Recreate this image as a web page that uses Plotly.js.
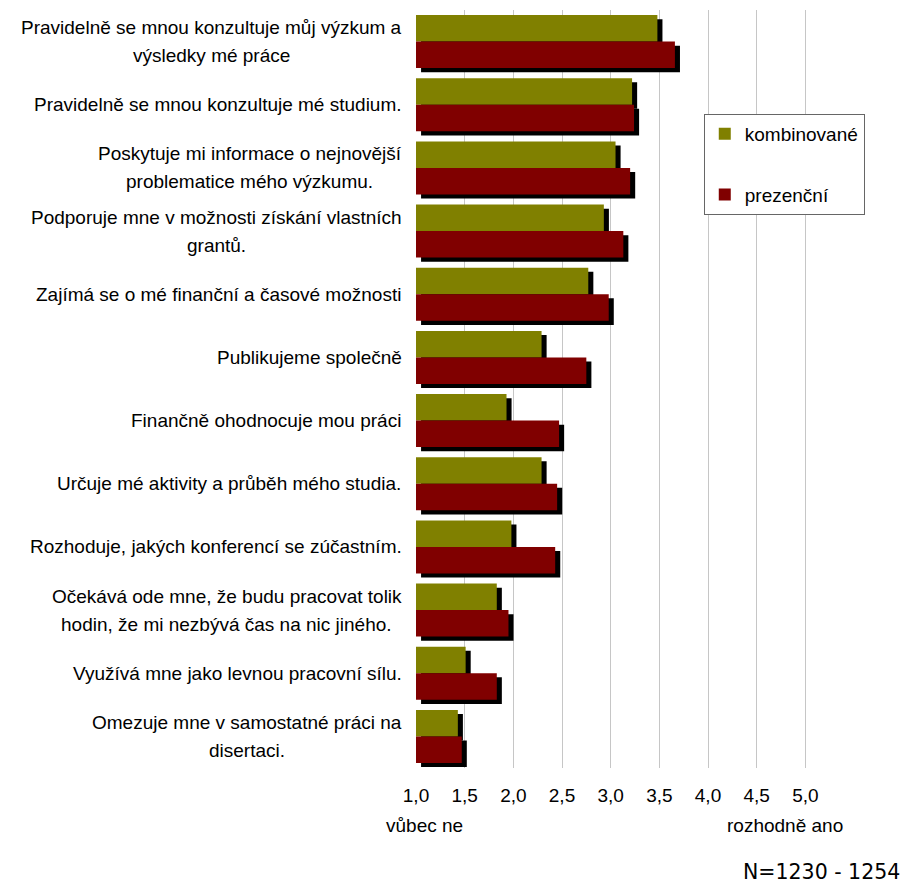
<!DOCTYPE html>
<html><head><meta charset="utf-8">
<script src="https://cdn.plot.ly/plotly-3.0.1.min.js"></script>
<style>html,body{margin:0;padding:0;background:#fff}#chart{width:907px;height:886px}</style>
</head><body><div id="chart"></div>
<script>
// ---- data ----
const categories = [
  "Pravidelně se mnou konzultuje můj výzkum a<br>výsledky mé práce",
  "Pravidelně se mnou konzultuje mé studium.",
  "Poskytuje mi informace o nejnovější<br>problematice mého výzkumu.",
  "Podporuje mne v možnosti získání vlastních<br>grantů.",
  "Zajímá se o mé finanční a časové možnosti",
  "Publikujeme společně",
  "Finančně ohodnocuje mou práci",
  "Určuje mé aktivity a průběh mého studia.",
  "Rozhoduje, jakých konferencí se zúčastním.",
  "Očekává ode mne, že budu pracovat tolik<br>hodin, že mi nezbývá čas na nic jiného.",
  "Využívá mne jako levnou pracovní sílu.",
  "Omezuje mne v samostatné práci na<br>disertaci."
];
const kombinovane = [3.48, 3.22, 3.05, 2.93, 2.77, 2.29, 1.93, 2.29, 1.98, 1.83, 1.51, 1.43];
const prezencni   = [3.66, 3.24, 3.20, 3.13, 2.98, 2.75, 2.47, 2.45, 2.43, 1.95, 1.83, 1.47];
const seriesNames = ["kombinované", "prezenční"];
const tickValues = [1, 1.5, 2, 2.5, 3, 3.5, 4, 4.5, 5];
const tickLabels = ["1,0", "1,5", "2,0", "2,5", "3,0", "3,5", "4,0", "4,5", "5,0"];
const leftLabel = "vůbec ne";
const rightLabel = "rozhodně ano";
const noteText = "N=1230 - 1254";

// ---- styling ----
const FONT = "'Liberation Sans', Arial, sans-serif";
const FS = 19;
const GREEN = "#808000", RED = "#800000", SHADOW = "#000000";
const axisStart = 1;
const barW = 0.42, shDx = 0.052, shDy = 0.065;

function bar(vals, name, color, offset, baseShift, legend, group) {
  return {
    type: "bar", orientation: "h", name: name,
    y: categories,
    x: vals.map(v => v - axisStart),
    base: axisStart + baseShift,
    width: barW, offset: offset,
    marker: {color: color, line: {width: 0}},
    showlegend: legend, legendgroup: group,
    hoverinfo: "skip"
  };
}

const traces = [
  bar(kombinovane, "s1", SHADOW, -barW + shDy, shDx, false, "s1"),
  bar(prezencni, "s2", SHADOW, 0 + shDy, shDx, false, "s2"),
  bar(kombinovane, seriesNames[0], GREEN, -barW, 0, true, "g1"),
  bar(prezencni, seriesNames[1], RED, 0, 0, true, "g2")
];

// category labels: centred lines, right-aligned block
const ctx = document.createElement("canvas").getContext("2d");
ctx.font = FS + "px 'Liberation Sans'";
const annotations = [];
const LINE = 28, GAP = 14.5;
categories.forEach((c, i) => {
  const lines = c.split("<br>");
  const maxW = Math.max(...lines.map(l => ctx.measureText(l).width));
  lines.forEach((l, j) => {
    annotations.push({
      xref: "paper", yref: "y", x: 0, y: i,
      xanchor: "center", yanchor: "middle",
      xshift: -(GAP + maxW / 2),
      yshift: ((lines.length - 1) / 2 - j) * LINE,
      text: l, showarrow: false,
      font: {family: FONT, size: FS, color: "#000"}
    });
  });
});
annotations.push({xref: "paper", yref: "paper", x: 0, y: 0, xanchor: "left", yanchor: "middle",
  xshift: -32, yshift: -57, text: leftLabel, showarrow: false,
  font: {family: FONT, size: FS, color: "#000"}});
annotations.push({xref: "paper", yref: "paper", x: 1, y: 0, xanchor: "right", yanchor: "middle",
  xshift: -9, yshift: -57, text: rightLabel, showarrow: false,
  font: {family: FONT, size: FS, color: "#000"}});
annotations.push({xref: "paper", yref: "paper", x: 1, y: 0, xanchor: "right", yanchor: "bottom",
  xshift: 47, yshift: -117, text: noteText, showarrow: false, borderpad: 0,
  font: {family: "'DejaVu Sans', sans-serif", size: 20.5, color: "#000"}});

const layout = {
  width: 907, height: 886,
  margin: {l: 416, r: 53, t: 10, b: 118, pad: 0},
  paper_bgcolor: "#fff", plot_bgcolor: "#fff",
  barmode: "overlay",
  font: {family: FONT, size: FS, color: "#000"},
  xaxis: {
    range: [1, 5.5], tickvals: tickValues, ticktext: tickLabels,
    showgrid: true, gridcolor: "#c6c6c6", gridwidth: 1,
    zeroline: false, showline: false, ticks: "",
    ticklabelstandoff: 14,
    tickfont: {family: FONT, size: FS, color: "#000"}
  },
  yaxis: {
    type: "category", categoryorder: "array", categoryarray: categories,
    range: [11.5, -0.5], showticklabels: false, showgrid: false,
    zeroline: false, showline: false, ticks: ""
  },
  legend: {
    x: 0.657, xanchor: "left", y: 0.863, yanchor: "top",
    bgcolor: "#fff", bordercolor: "#666", borderwidth: 1,
    font: {family: FONT, size: FS, color: "#000"},
    tracegroupgap: 33, traceorder: "grouped"
  },
  annotations: annotations,
  showlegend: true
};

Plotly.newPlot("chart", traces, layout, {displayModeBar: false, staticPlot: true});
</script>
</body></html>
